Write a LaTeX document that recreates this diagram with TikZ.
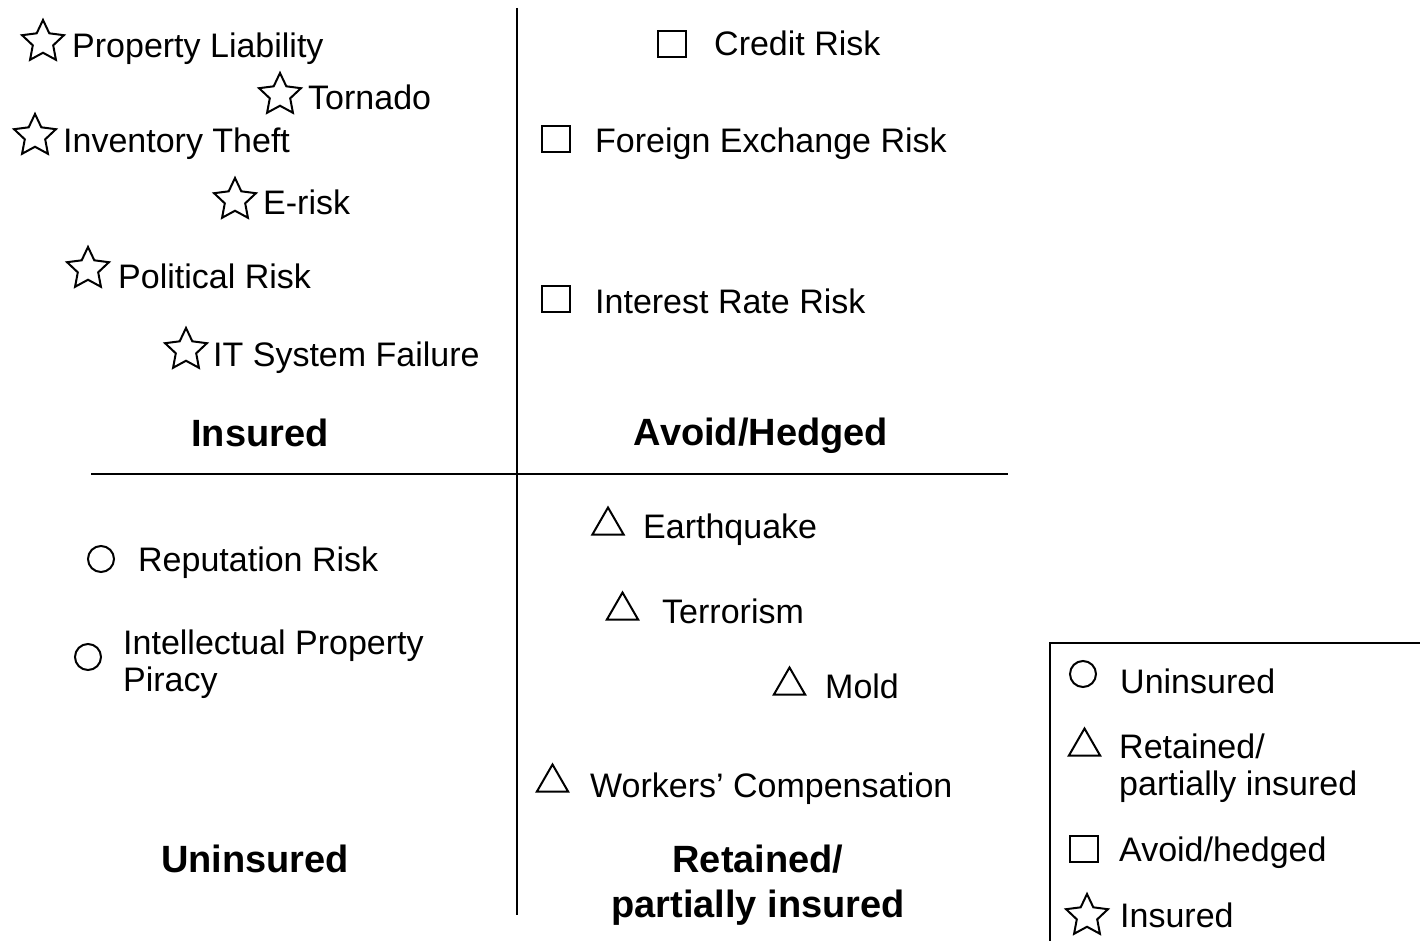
\documentclass[tikz,border=0pt]{standalone}
\usepackage{fontspec}
\setmainfont{Liberation Sans}
\usetikzlibrary{shapes.geometric}
\begin{document}
\begin{tikzpicture}[x=1pt,y=-1pt,
  lbl/.style={anchor=base west, inner sep=0pt, font=\fontsize{34}{40}\selectfont},
  hdr/.style={anchor=base, inner sep=0pt, font=\fontsize{38}{44}\selectfont\bfseries},
  symline/.style={draw, line width=2pt, inner sep=0pt},
  starsym/.style={symline, star, star points=5, star point ratio=2.05, minimum size=44pt},
  sqsym/.style={symline, rectangle, minimum width=28pt, minimum height=26pt},
  circsym/.style={symline, circle, minimum size=26pt},
  trisym/.style={symline, regular polygon, regular polygon sides=3, minimum size=36pt},
  axisline/.style={line width=1.8pt}]
\useasboundingbox (0,0) rectangle (1420,941);

% axes
\coordinate (vt) at (517,8);
\coordinate (vb) at (517,915);
\coordinate (hl) at (91,474);
\coordinate (hr) at (1008,474);
\draw[axisline] (vt) -- (vb);
\draw[axisline] (hl) -- (hr);

% Insured quadrant
\node[starsym] (s1) at (43,42) {};
\node[lbl] (t1) at (72,58) {Property Liability};
\node[starsym] (s2) at (280,95) {};
\node[lbl] (t2) at (308,110) {Tornado};
\node[starsym] (s3) at (35,136) {};
\node[lbl] (t3) at (63,153) {Inventory Theft};
\node[starsym] (s4) at (235,200) {};
\node[lbl] (t4) at (263,215) {E-risk};
\node[starsym] (s5) at (88,269) {};
\node[lbl] (t5) at (118,288) {Political Risk};
\node[starsym] (s6) at (186,350) {};
\node[lbl] (t6) at (213,366) {IT System Failure};
\node[hdr] (h1) at (260,446) {Insured};

% Avoid/Hedged quadrant
\node[sqsym] (q1) at (672,44) {};
\node[lbl] (u1) at (714,56) {Credit Risk};
\node[sqsym] (q2) at (556,139) {};
\node[lbl] (u2) at (595,153) {Foreign Exchange Risk};
\node[sqsym] (q3) at (556,299) {};
\node[lbl] (u3) at (595,313) {Interest Rate Risk};
\node[hdr] (h2) at (761,445) {Avoid/Hedged};

% Uninsured quadrant
\node[circsym] (c1) at (101,559) {};
\node[lbl] (v1) at (138,571) {Reputation Risk};
\node[circsym] (c2) at (88,657) {};
\node[lbl] (v2) at (123,654) {Intellectual Property};
\node[lbl] (v3) at (123,691) {Piracy};
\node[hdr] (h3) at (255,872) {Uninsured};

% Retained quadrant
\node[trisym] (r1) at (608,525.5) {};
\node[lbl] (w1) at (643,538) {Earthquake};
\node[trisym] (r2) at (622.5,610.5) {};
\node[lbl] (w2) at (662,623) {Terrorism};
\node[trisym] (r3) at (789.5,685.5) {};
\node[lbl] (w3) at (825,698) {Mold};
\node[trisym] (r4) at (552.5,782.5) {};
\node[lbl] (w4) at (590,797) {Workers’ Compensation};
\node[hdr] (h4) at (758,872) {Retained/};
\node[hdr] (h5) at (758,917) {partially insured};

% Legend
\coordinate (lb) at (1050,945);
\coordinate (lt) at (1050,643);
\coordinate (lr) at (1425,643);
\draw[axisline] (lb) -- (lt) -- (lr);
\node[circsym] (lc) at (1083,674) {};
\node[lbl] (lct) at (1120,693) {Uninsured};
\node[trisym] (ltr) at (1084.5,746.5) {};
\node[lbl] (ltt1) at (1119,758) {Retained/};
\node[lbl] (ltt2) at (1119,795) {partially insured};
\node[sqsym] (lsq) at (1084,849) {};
\node[lbl] (lsqt) at (1119,861) {Avoid/hedged};
\node[starsym] (lst) at (1087,916) {};
\node[lbl] (lstt) at (1120,927) {Insured};
\end{tikzpicture}
\end{document}
